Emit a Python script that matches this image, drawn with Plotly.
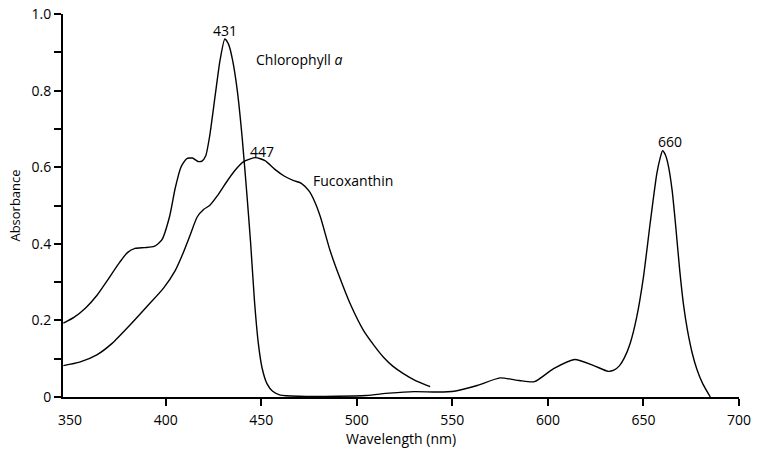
import plotly.graph_objects as go

# Absorption spectra of chlorophyll a and fucoxanthin
chl_nm = [346.5, 352, 358, 364, 370, 376, 380, 384, 389, 394, 398, 402, 405, 408,
          411, 414, 417, 419, 421, 423, 426, 428.5, 431, 433, 435, 437.5, 440,
          442.5, 444.5, 446.5, 448.5, 450.5, 453, 456, 460, 470, 490, 505, 517,
          530, 542, 551, 563, 575, 585, 593, 603, 614, 624, 631.5, 634.5, 637.5,
          640, 643, 646.5, 650, 653.5, 657, 658.8, 660, 661.5, 663, 665, 667,
          669, 671, 673, 675.5, 678, 681, 685]
chl_abs = [0.193, 0.208, 0.232, 0.265, 0.308, 0.352, 0.377, 0.388, 0.390, 0.393,
           0.410, 0.470, 0.545, 0.600, 0.622, 0.624, 0.615, 0.616, 0.630, 0.680,
           0.790, 0.880, 0.935, 0.920, 0.880, 0.800, 0.680, 0.530, 0.400, 0.250,
           0.140, 0.075, 0.035, 0.015, 0.005, 0.002, 0.002, 0.004, 0.010, 0.014,
           0.013, 0.015, 0.030, 0.050, 0.043, 0.040, 0.074, 0.098, 0.082, 0.067,
           0.070, 0.082, 0.102, 0.139, 0.209, 0.313, 0.453, 0.583, 0.625, 0.643,
           0.632, 0.605, 0.540, 0.440, 0.330, 0.240, 0.175, 0.115, 0.072, 0.035,
           0.0]

fuco_nm = [346.5, 355, 364, 372, 381, 390, 399, 405, 409, 413, 416.5, 420, 423,
           427, 431, 436, 441, 447, 452, 457, 462, 467, 471, 475, 478, 481, 486,
           491, 496.5, 503.5, 509, 514, 519, 524.4, 531, 538.4]
fuco_abs = [0.082, 0.091, 0.110, 0.140, 0.186, 0.235, 0.285, 0.330, 0.374, 0.425,
            0.470, 0.490, 0.500, 0.525, 0.555, 0.590, 0.615, 0.625, 0.617, 0.595,
            0.577, 0.565, 0.558, 0.538, 0.510, 0.470, 0.383, 0.313, 0.244, 0.174,
            0.135, 0.104, 0.080, 0.061, 0.042, 0.027]

x_ticks = [350, 400, 450, 500, 550, 600, 650, 700]
x_marks = [400, 450, 500, 550, 600, 650, 700]
y_ticks = [0, 0.2, 0.4, 0.6, 0.8, 1.0]
y_ticktext = ["0", "0.2", "0.4", "0.6", "0.8", "1.0"]
y_minor = [0.1, 0.3, 0.5, 0.7, 0.9]

FONT = "Open Sans"
line_style = dict(color="black", width=1.4, shape="spline", smoothing=0.6)

fig = go.Figure()
fig.add_trace(go.Scatter(x=chl_nm, y=chl_abs, mode="lines", line=line_style,
                         name="Chlorophyll a", showlegend=False))
fig.add_trace(go.Scatter(x=fuco_nm, y=fuco_abs, mode="lines", line=line_style,
                         name="Fucoxanthin", showlegend=False))

ann_font = dict(family=FONT, size=14, color="black")
fig.add_annotation(x=431, y=0.958, text="431", showarrow=False, font=ann_font,
                   xanchor="center", yanchor="middle")
fig.add_annotation(x=446.2, y=0.881, text="Chlorophyll <i>a</i>", showarrow=False,
                   font=ann_font, xanchor="left", yanchor="middle")
fig.add_annotation(x=450.3, y=0.64, text="447", showarrow=False, font=ann_font,
                   xanchor="center", yanchor="middle")
fig.add_annotation(x=475.9, y=0.566, text="Fucoxanthin", showarrow=False,
                   font=ann_font, xanchor="left", yanchor="middle")
fig.add_annotation(x=663.9, y=0.666, text="660", showarrow=False, font=ann_font,
                   xanchor="center", yanchor="middle")

fig.update_xaxes(
    range=[346.3, 700], showgrid=False, zeroline=False,
    showline=True, linecolor="black", linewidth=2,
    tickmode="array", tickvals=x_ticks, ticks="",
    ticklabelstandoff=9,
    minor=dict(tickmode="array", tickvals=x_marks, ticks="outside",
               ticklen=7, tickwidth=1.5, tickcolor="black"),
    tickfont=dict(family=FONT, size=14, color="black"),
    title=dict(text="Wavelength (nm)", font=dict(family=FONT, size=14, color="black"),
               standoff=4),
)
fig.update_yaxes(
    range=[0, 1.0], showgrid=False, zeroline=False,
    showline=True, linecolor="black", linewidth=2,
    tickmode="array", tickvals=y_ticks, ticktext=y_ticktext,
    ticks="outside", ticklen=7, tickwidth=1.5, tickcolor="black",
    minor=dict(tickmode="array", tickvals=y_minor, ticks="outside",
               ticklen=7, tickwidth=1.5, tickcolor="black"),
    tickfont=dict(family=FONT, size=14, color="black"),
    title=dict(text="Absorbance", font=dict(family=FONT, size=13, color="black"),
               standoff=8),
)
fig.update_layout(
    width=758, height=451,
    margin=dict(l=63, r=19, t=14, b=54, autoexpand=False),
    paper_bgcolor="white", plot_bgcolor="white",
)

fig.write_html("out.html")
